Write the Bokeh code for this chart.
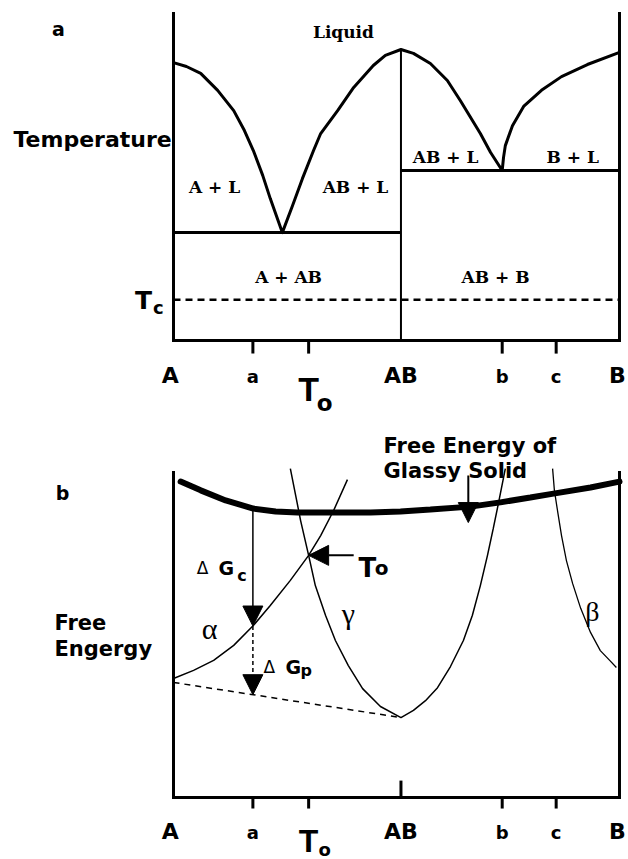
import numpy as np
from bokeh.plotting import figure
from bokeh.models import Range1d, Label, Arrow, NormalHead
from bokeh.layouts import column
from bokeh.embed import file_html
from bokeh.resources import INLINE

# ---------------- data ----------------
# composition axis (% B) shared by both panels
comp_names = ["A", "a", "T", "AB", "b", "c", "B"]
comp_values = [0.0, 17.8, 30.3, 51.0, 73.7, 85.8, 100.0]
X_A, X_a, X_To, X_AB, X_b, X_c, X_B = comp_values
tick_positions = [X_a, X_To, X_b, X_c]

# panel a : phase diagram (temperature, arbitrary units 0-100)
liq_x = [0.0, 2.9, 6.1, 9.9, 13.5, 15.9, 17.9, 20.0, 21.7, 24.4,
         26.7, 28.9, 31.4, 33.0, 36.8, 40.4, 44.8, 47.5, 51.0,
         53.8, 57.6, 61.4, 64.3, 68.8, 71.1, 73.7,
         74.0, 74.4, 76.0, 78.5, 82.5, 87.0, 92.8, 100.0]
liq_T = [85.0, 83.8, 81.7, 76.5, 70.3, 64.2, 58.1, 50.5, 43.4, 33.0,
         41.3, 49.5, 58.1, 63.3, 70.3, 77.4, 84.1, 87.2, 89.0,
         87.8, 84.7, 79.5, 73.4, 63.3, 57.5, 52.0,
         56.0, 59.6, 65.7, 71.6, 76.5, 80.7, 84.4, 88.1]
T_eutectic = [33.0, 52.0]      # A-AB eutectic, AB-B eutectic
T_melt_AB = 89.0
T_c = 12.5
T_top = 100.0

# panel b : free energy curves (arbitrary units 0-100)
glass_x = [1.6, 6.1, 11.7, 17.9, 22.9, 27.8, 35.2, 44.2, 50.9, 57.6, 66.6, 73.3, 80.0, 85.2, 93.5, 100.0]
glass_G = [97.2, 94.5, 91.4, 88.9, 88.0, 87.7, 87.7, 87.7, 88.0, 88.6, 89.5, 90.8, 92.3, 93.5, 95.4, 97.2]

alpha_x = [0.0, 4.5, 9.0, 13.5, 17.9, 21.7, 26.2, 30.3, 33.0, 35.9, 39.0]
alpha_G = [36.6, 39.1, 42.2, 46.8, 52.9, 59.1, 66.8, 74.5, 80.6, 88.3, 97.8]

gamma_x = [26.2, 27.4, 28.5, 30.3, 31.8, 34.1, 36.3, 39.2, 42.4, 46.4, 51.0,
           53.8, 56.5, 59.2, 62.1, 65.0, 67.0, 68.8, 70.4, 71.7, 72.9, 74.4]
gamma_G = [101.2, 92.9, 85.2, 74.5, 65.2, 56.0, 48.3, 40.6, 33.5, 28.0, 24.6,
           26.8, 29.8, 33.8, 40.3, 48.3, 56.0, 65.2, 74.5, 82.8, 90.8, 101.2]

beta_x = [85.0, 85.4, 86.1, 87.0, 88.1, 89.5, 91.3, 93.5, 95.7, 97.8, 99.3]
beta_G = [101.2, 94.5, 88.3, 80.6, 72.9, 65.8, 58.2, 50.8, 45.2, 42.2, 40.0]

tangent_x = [0.0, 51.0]
tangent_G = [35.4, 24.6]
G_top = 100.0

SANS = "DejaVu Sans"
SERIF = "DejaVu Serif"
W = 626


def base_fig(height, y_lo, y_hi):
    p = figure(width=W, height=height,
               x_range=Range1d(-38.79, 101.57), y_range=Range1d(y_lo, y_hi),
               output_backend="svg", toolbar_location=None, tools="",
               x_axis_location=None, y_axis_location=None, min_border=0)
    p.outline_line_color = None
    p.grid.visible = False
    p.background_fill_color = "white"
    p.border_fill_color = "white"
    return p


def frame_box(p, top, tick_len):
    # left, right and bottom edges of the diagram box
    p.segment(x0=[X_A, X_B, X_A], x1=[X_A, X_B, X_B], y0=[0, 0, 0], y1=[top, top, 0],
              line_width=3, line_color="black", line_cap="square")
    # composition ticks (outward)
    p.segment(x0=tick_positions, x1=tick_positions, y0=[0] * 4, y1=[-tick_len] * 4,
              line_width=3, line_color="black")


def lab(p, text, x, y, size, font=SANS, style="bold", align="center"):
    p.add_layout(Label(x=x, y=y, text=text, text_font=font,
                       text_font_size=f"{size}px", text_font_style=style,
                       text_align=align, text_baseline="alphabetic",
                       text_color="black"))


def tick_labels(p, y_big, y_small, y_T, y_o, T_size, o_size):
    sizes = {"A": 22, "a": 18, "AB": 22, "b": 18, "c": 18, "B": 22}
    shift = {"A": -0.7, "B": -0.5}
    for name, xv in zip(comp_names, comp_values):
        if name == "T":
            lab(p, "T", xv, y_T, T_size, font="Liberation Sans")
            lab(p, "o", xv + 3.6, y_o, o_size)
        else:
            yy = y_big if name in ("A", "AB", "B") else y_small
            lab(p, name, xv + shift.get(name, 0.0), yy, sizes[name])


# ---------------- panel a ----------------
pa = base_fig(420, -24.46, 103.98)
frame_box(pa, T_top, 4.0)
pa.line(liq_x, liq_T, line_width=3, line_color="black", line_join="round")
pa.segment(x0=[X_A, X_AB], x1=[X_AB, X_B], y0=T_eutectic, y1=T_eutectic,
           line_width=3, line_color="black")
pa.segment(x0=[X_AB], x1=[X_AB], y0=[0], y1=[T_melt_AB], line_width=2, line_color="black")
pa.segment(x0=[X_A], x1=[X_B], y0=[T_c], y1=[T_c], line_width=2.5,
           line_color="black", line_dash="7 5")

lab(pa, "Liquid", 38.1, 94.2, 17, font=SERIF)
lab(pa, "A + L", 9.2, 46.8, 17, font=SERIF)
lab(pa, "AB + L", 40.8, 46.8, 17, font=SERIF)
lab(pa, "AB + L", 61.0, 56.0, 17, font=SERIF)
lab(pa, "B + L", 89.5, 56.0, 17, font=SERIF)
lab(pa, "A + AB", 25.8, 19.3, 17, font=SERIF)
lab(pa, "AB + B", 72.2, 19.3, 17, font=SERIF)
lab(pa, "Temperature", -0.4, 61.5, 22, align="right")
lab(pa, "T", -6.7, 12.2, 25)
lab(pa, "c", -3.4, 10.1, 18)
lab(pa, "a", -25.8, 95.4, 19)
tick_labels(pa, -10.7, -11.0, -14.7, -19.0, 34, 23)

# ---------------- panel b ----------------
pb = base_fig(439, -19.08, 116.0)
frame_box(pb, G_top, 3.4)
pb.segment(x0=[X_AB], x1=[X_AB], y0=[0], y1=[5.2], line_width=3, line_color="black")
pb.line(tangent_x, tangent_G, line_width=1.5, line_color="black", line_dash="6 5")
pb.line(alpha_x, alpha_G, line_width=1.5, line_color="black")
pb.line(gamma_x, gamma_G, line_width=1.5, line_color="black")
pb.line(beta_x, beta_G, line_width=1.3, line_color="black")
pb.line(glass_x, glass_G, line_width=6, line_color="black", line_cap="round")

gc_start = float(np.interp(X_a, glass_x, glass_G))
gc_end = float(np.interp(X_a, alpha_x, alpha_G))
gp_end = float(np.interp(X_a, tangent_x, tangent_G))
to_G = float(np.interp(X_To, alpha_x, alpha_G))


def head():
    return NormalHead(size=20, fill_color="black", line_color="black", line_width=1)


pb.add_layout(Arrow(end=head(), x_start=X_a, y_start=gc_start, x_end=X_a, y_end=gc_end,
                    line_width=1.5, line_color="black"))
pb.add_layout(Arrow(end=head(), x_start=X_a, y_start=gc_end, x_end=X_a, y_end=gp_end,
                    line_width=1.5, line_color="black", line_dash="4 3"))
pb.add_layout(Arrow(end=head(), x_start=40.4, y_start=to_G, x_end=X_To, y_end=to_G,
                    line_width=2, line_color="black"))
pb.add_layout(Arrow(end=head(), x_start=66.1, y_start=99.1, x_end=66.1, y_end=84.6,
                    line_width=2, line_color="black"))

lab(pb, "Free Energy of", 47.1, 108.3, 21, align="left")
lab(pb, "Glassy Solid", 47.1, 100.6, 21, align="left")
lab(pb, "Free", -26.7, 53.8, 21, align="left")
lab(pb, "Engergy", -26.7, 45.8, 21, align="left")
lab(pb, "b", -24.9, 93.8, 19)
lab(pb, "Δ", 6.5, 70.5, 17, style="normal")
lab(pb, "G", 10.1, 70.5, 19, align="left")
lab(pb, "c", 14.3, 68.3, 16, align="left")
lab(pb, "Δ", 21.5, 40.0, 17, style="normal")
lab(pb, "G", 25.1, 40.0, 19, align="left")
lab(pb, "p", 28.5, 39.1, 16, align="left")
lab(pb, "T", 41.5, 70.5, 26, align="left")
lab(pb, "o", 45.1, 70.5, 20, align="left")
lab(pb, "α", 8.1, 52.0, 30, font="Liberation Serif", style="normal")
lab(pb, "γ", 39.2, 56.6, 30, font="Liberation Serif", style="normal")
lab(pb, "β", 93.9, 57.2, 28, font="Liberation Serif", style="normal")
tick_labels(pb, -10.5, -10.8, -13.5, -16.0, 32, 18)

layout = column(pa, pb)
open("out.html", "w").write(file_html(layout, INLINE))
